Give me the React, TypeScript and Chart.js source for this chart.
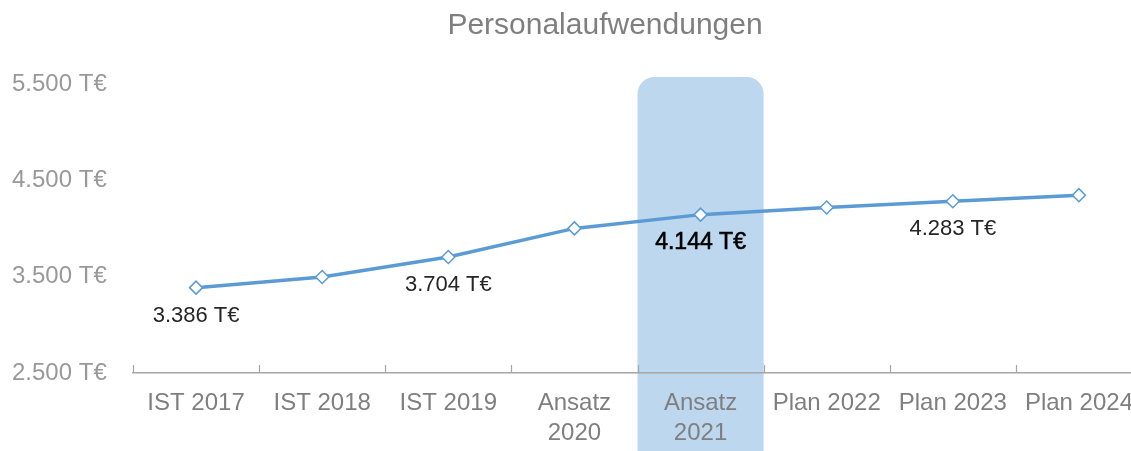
import React, { useEffect, useRef } from "react";
import { Chart, registerables } from "chart.js";

Chart.register(...registerables);

const chartTitle = "Personalaufwendungen";
const categories: (string | string[])[] = [
  "IST 2017",
  "IST 2018",
  "IST 2019",
  ["Ansatz", "2020"],
  ["Ansatz", "2021"],
  "Plan 2022",
  "Plan 2023",
  "Plan 2024",
];
const values: number[] = [3386, 3497, 3704, 4001, 4144, 4218, 4283, 4346];
const yTickValues: number[] = [2500, 3500, 4500, 5500];
const labeledIndexes: number[] = [0, 2, 4, 6];
const highlightIndex = 4;

const FONT = "'Liberation Sans', Arial, Helvetica, sans-serif";
const LINE_COLOR = "#5b9bd5";
const HIGHLIGHT_COLOR = "#bdd7ee";

const fmt = (v: number) =>
  String(Math.round(v)).replace(/\B(?=(\d{3})+(?!\d))/g, ".") + " T€";

const highlightPlugin = {
  id: "highlightBox",
  beforeDraw(chart: any) {
    const { ctx, chartArea } = chart;
    const x = chart.scales.x;
    const w = (chartArea.right - chartArea.left) / categories.length;
    const cx = x.getPixelForValue(highlightIndex);
    const left = cx - w / 2;
    const top = chartArea.top - 7;
    const bottom = chart.height + 30;
    ctx.save();
    ctx.fillStyle = HIGHLIGHT_COLOR;
    ctx.beginPath();
    (ctx as any).roundRect(left, top, w, bottom - top, 17);
    ctx.fill();
    ctx.restore();
  },
};

const decorPlugin = {
  id: "decor",
  afterDraw(chart: any) {
    const { ctx, chartArea } = chart;
    const w = (chartArea.right - chartArea.left) / categories.length;
    // inside tick marks on the x axis
    ctx.save();
    ctx.strokeStyle = "#a6a6a6";
    ctx.lineWidth = 1.2;
    for (let i = 0; i <= categories.length; i++) {
      const bx = Math.round(chartArea.left + i * w) + 0.5;
      ctx.beginPath();
      ctx.moveTo(bx, chartArea.bottom - 8);
      ctx.lineTo(bx, chartArea.bottom);
      ctx.stroke();
    }
    ctx.restore();

    // title
    ctx.save();
    ctx.font = `30px ${FONT}`;
    ctx.fillStyle = "#7f7f7f";
    ctx.textAlign = "center";
    ctx.textBaseline = "alphabetic";
    ctx.fillText(chartTitle, 605, 34);
    ctx.restore();

    // data labels
    const meta = chart.getDatasetMeta(0);
    ctx.save();
    ctx.textAlign = "center";
    ctx.textBaseline = "middle";
    labeledIndexes.forEach((i) => {
      const pt = meta.data[i];
      const text = fmt(values[i]);
      const y = pt.y + 28;
      if (i === highlightIndex) {
        ctx.font = `23px ${FONT}`;
        ctx.fillStyle = "#000000";
        ctx.strokeStyle = "#000000";
        ctx.lineWidth = 0.6;
        ctx.fillText(text, pt.x, y);
        ctx.strokeText(text, pt.x, y);
      } else {
        ctx.font = `22px ${FONT}`;
        ctx.fillStyle = "#262626";
        ctx.fillText(text, pt.x, y);
      }
    });
    ctx.restore();
  },
};

export default function App() {
  const canvasRef = useRef<HTMLCanvasElement | null>(null);

  useEffect(() => {
    if (!canvasRef.current) return;
    const chart = new Chart(canvasRef.current, {
      type: "line",
      data: {
        labels: categories as any,
        datasets: [
          {
            data: values,
            borderColor: LINE_COLOR,
            borderWidth: 3.5,
            pointStyle: "rectRot",
            pointRadius: 6.5,
            pointBackgroundColor: "#ffffff",
            pointBorderColor: LINE_COLOR,
            pointBorderWidth: 1.5,
            tension: 0,
            fill: false,
            clip: false as any,
          },
        ],
      },
      options: {
        responsive: false,
        animation: false,
        devicePixelRatio: 1,
        layout: { padding: { left: 12, right: 8, top: 84, bottom: 0 } },
        plugins: {
          legend: { display: false },
          title: { display: false },
          tooltip: { enabled: false },
        },
        scales: {
          x: {
            type: "category",
            offset: true,
            grid: { display: false, drawTicks: false, offset: true },
            border: { display: true, color: "#a6a6a6", width: 1.5 },
            ticks: {
              color: "#7f7f7f",
              font: { family: FONT, size: 24, lineHeight: 1.25 },
              padding: 15,
              maxRotation: 0,
              autoSkip: false,
            },
            afterFit: (scale: any) => {
              scale.height = 78;
            },
          },
          y: {
            min: 2500,
            max: 5500,
            grid: { display: false, drawTicks: false },
            border: { display: false },
            afterBuildTicks: (scale: any) => {
              scale.ticks = yTickValues.map((v) => ({ value: v }));
            },
            ticks: {
              color: "#999999",
              font: { family: FONT, size: 24 },
              crossAlign: "far",
              padding: 0,
              callback: (v: any) => fmt(Number(v)),
            },
            afterFit: (scale: any) => {
              scale.width = 121;
            },
          },
        },
      },
      plugins: [highlightPlugin, decorPlugin],
    });
    return () => chart.destroy();
  }, []);

  return (
    <div
      style={{
        position: "fixed",
        left: 0,
        top: 0,
        width: 1131,
        height: 451,
        overflow: "hidden",
        background: "#ffffff",
      }}
    >
      <canvas
        ref={canvasRef}
        width={1150}
        height={451}
        style={{ width: 1150, height: 451, display: "block" }}
      />
    </div>
  );
}
